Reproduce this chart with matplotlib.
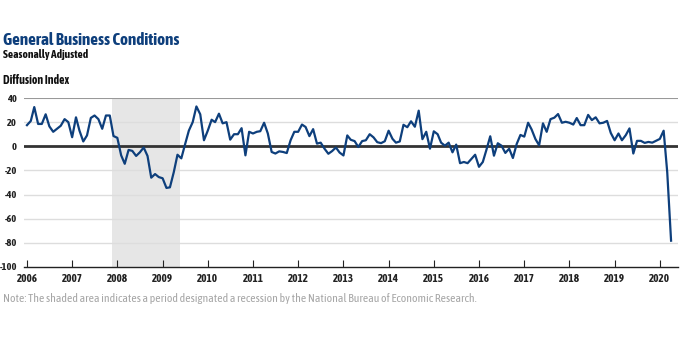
import numpy as np
import pandas as pd
import matplotlib.pyplot as plt
import matplotlib.dates as mdates
from matplotlib import font_manager

# Empire State survey, general business conditions (diffusion index), monthly
start_month = '2006-01-01'
index_values = [
    # 2006
    17.5, 21, 32.5, 18.5, 18.5, 26.5, 16.5, 12, 14.5, 17, 22.5, 20,
    # 2007
    7.5, 24, 13, 4, 9, 23.5, 25.5, 22.5, 14.5, 25.5, 25.5, 8.5,
    # 2008
    7, -7.5, -14.5, -3, -3.8, -8, -5, -1, -8, -26, -23, -25.5,
    # 2009
    -26.5, -34.5, -34, -21.5, -7, -10, 1.5, 13, 20, 33, 26.5, 5,
    # 2010
    13, 22, 20, 27, 19, 20, 5.5, 10, 10, 15, -7.5, 12,
    # 2011
    10.6, 12, 12.5, 19.5, 10.6, -4.7, -6, -4.2, -4.7, -5.6, 5, 12,
    # 2012
    12, 18, 16, 8.4, 14.2, 2.2, 3, -2, -6.2, -4, -1, -5.2,
    # 2013
    -7.6, 9, 5.4, 4.3, -0.6, 4.3, 5, 10, 7.4, 3.4, 2.6, 4.2,
    # 2014
    12.9, 6.2, 3, 4, 17.8, 15.8, 20.7, 16.2, 29.5, 5.9, 12, -2,
    # 2015
    12.4, 10, 3, 0.5, 3, -5, 1.4, -14, -13, -14, -10.5, -7,
    # 2016
    -17, -13, -3, 8.3, -7.8, 2.5, 0.5, -5.5, -2, -9.7, 2, 9.4,
    # 2017
    8, 19.5, 14, 6, 0.8, 19, 12, 22.5, 23.7, 26.7, 19.5, 20.3,
    # 2018
    19.5, 18, 23.4, 17.5, 17.5, 26, 21.7, 24, 19, 19.5, 21, 11,
    # 2019
    5, 10.6, 5, 9.2, 14.8, -6, 4.5, 4.5, 2.8, 3.6, 3, 4.5,
    # 2020
    6.1, 12.9, -21.5, -78.2,
]
recession = ('2007-11-15', '2009-05-25')
y_ticks = [40, 20, 0, -20, -40, -60, -80, -100]
year_ticks = list(range(2006, 2021))

dates = pd.date_range(start_month, periods=len(index_values), freq='MS')


# look for a narrow sans face that also comes in bold
def narrow_font():
    fonts = font_manager.fontManager.ttflist
    def is_bold(f):
        w = f.weight
        return (w >= 600) if isinstance(w, int) else ('bold' in str(w).lower())
    for f in fonts:
        n = f.name.lower()
        if ('narrow' in n or 'condensed' in n) and is_bold(f):
            return f.name, 'normal'
    for f in fonts:
        if str(f.stretch) in ('condensed', 'semi-condensed') and is_bold(f):
            return f.name, f.stretch
    for f in fonts:
        n = f.name.lower()
        if 'narrow' in n or 'condensed' in n:
            return f.name, 'normal'
    return 'Liberation Sans', 'normal'


family, stretch = narrow_font()
plt.rcParams['font.family'] = [family, 'DejaVu Sans']
plt.rcParams['font.stretch'] = stretch

navy = '#0e3f7c'
fig = plt.figure(figsize=(6.8, 3.4), dpi=100)
ax = fig.add_axes([24 / 680, 1 - 267 / 340, 654 / 680, 169 / 340])

ax.axvspan(pd.Timestamp(recession[0]), pd.Timestamp(recession[1]),
           color='#e6e6e6', lw=0, zorder=0)
for v in y_ticks:
    if v in (0, 40, -100):
        continue
    ax.axhline(v, color='#dddddd', lw=1, zorder=1)
ax.axhline(40, color='#999999', lw=1.5, zorder=1)
ax.axhline(0, color='#333333', lw=2, zorder=2)

ax.plot(dates, index_values, color=navy, lw=1.6, zorder=3)

ax.set_ylim(-100, 40)
ax.set_xlim(pd.Timestamp('2005-12-08'), pd.Timestamp('2020-05-27'))
ax.set_yticks(y_ticks)
ax.set_yticklabels([str(v) for v in y_ticks])
ax.set_xticks([pd.Timestamp(f'{y}-01-01') for y in year_ticks])
ax.xaxis.set_major_formatter(mdates.DateFormatter('%Y'))

for s in ('top', 'right', 'left'):
    ax.spines[s].set_visible(False)
ax.spines['bottom'].set_color('#222222')
ax.spines['bottom'].set_linewidth(1)
ax.tick_params(axis='x', direction='in', length=5, width=0.8, color='#222222',
               labelsize=8, pad=4)
ax.tick_params(axis='y', length=0, labelsize=7.5, pad=5)
for lab in ax.get_xticklabels() + ax.get_yticklabels():
    lab.set_fontweight('bold')
    lab.set_color('#222222')

fig.text(0.005, 1 - 40 / 340, 'General Business Conditions', color=navy,
         fontsize=12.3, fontweight='bold', va='center', ha='left')
fig.text(0.005, 1 - 55 / 340, 'Seasonally Adjusted', color='#111111',
         fontsize=8.2, fontweight='bold', va='center', ha='left')
fig.text(0.005, 1 - 80 / 340, 'Diffusion Index', color='#111111',
         fontsize=8.5, fontweight='bold', va='center', ha='left')
fig.text(0.005, 1 - 298 / 340,
         'Note: The shaded area indicates a period designated a recession by the '
         'National Bureau of Economic Research.',
         color='#a6a6a6', fontsize=8.5, va='center', ha='left')

fig.savefig('out.png', dpi=100)
